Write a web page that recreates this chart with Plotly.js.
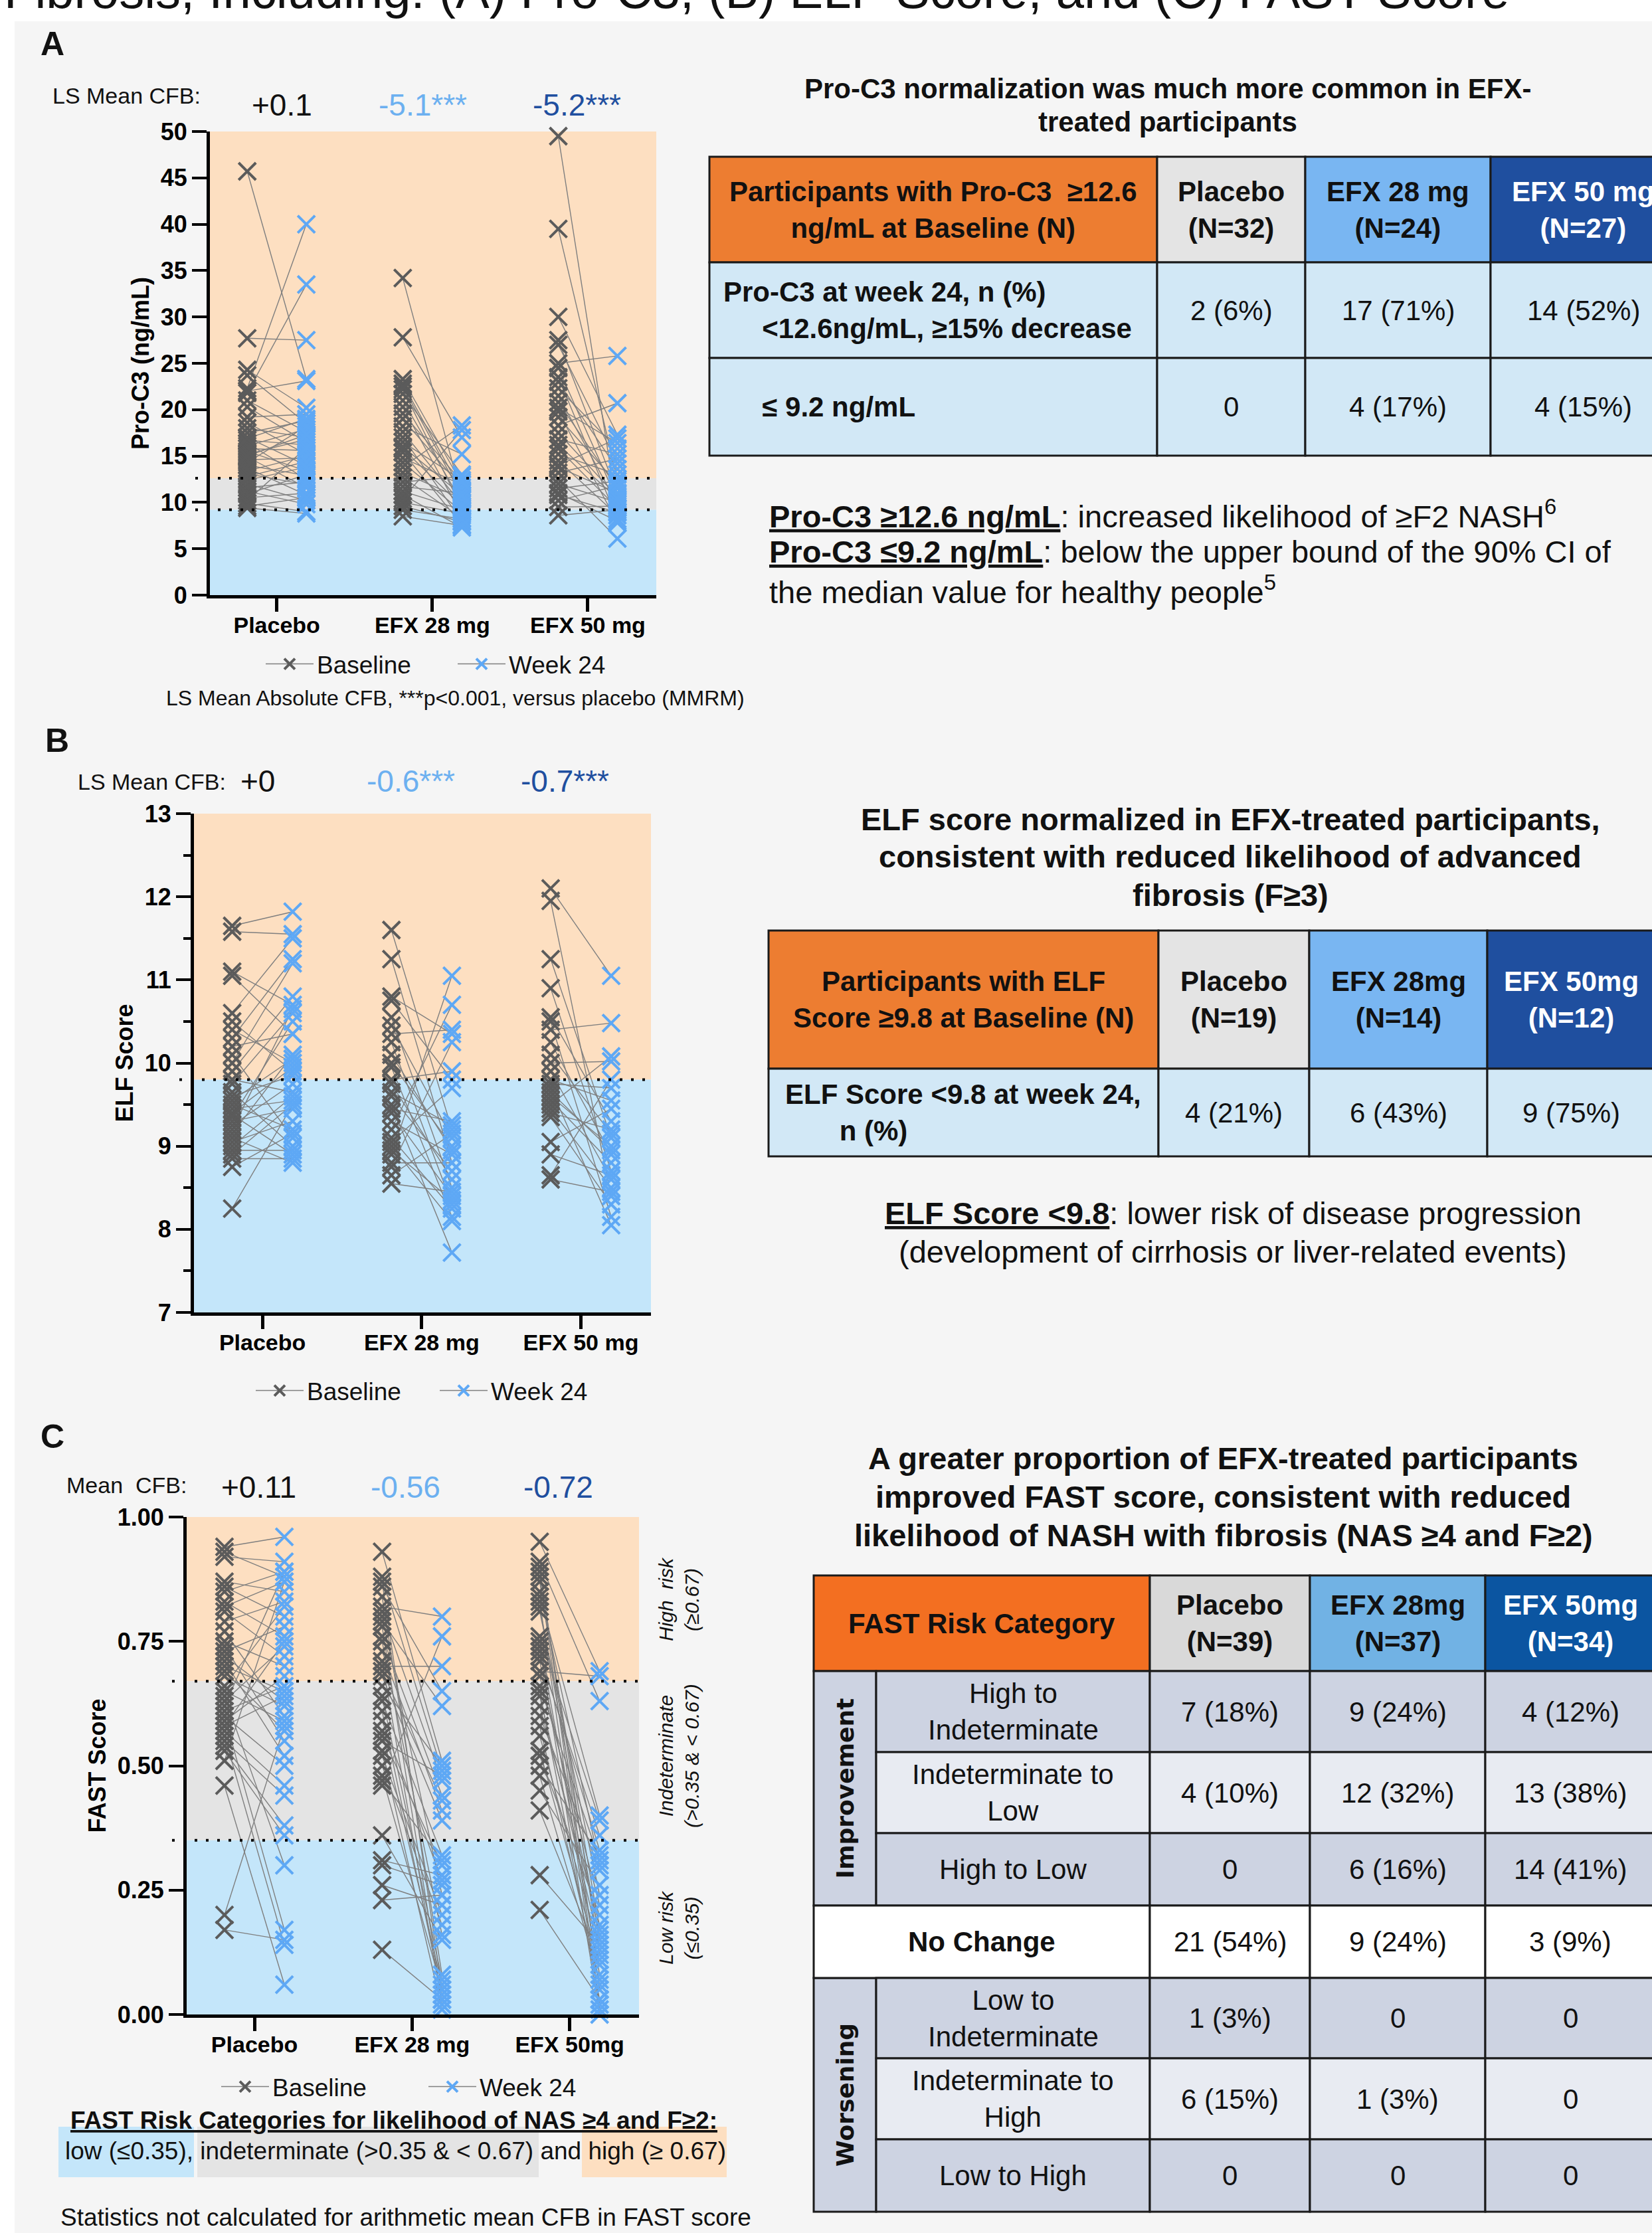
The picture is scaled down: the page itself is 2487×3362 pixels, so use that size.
<!DOCTYPE html>
<html>
<head>
<meta charset="utf-8">
<script src="https://cdn.plot.ly/plotly-3.0.1.min.js"></script>
<style>html,body{margin:0;padding:0;background:#fff;}#chart{width:2487px;height:3362px;}</style>
</head>
<body>
<div id="chart"></div>
<script>
// ======================= DATA =======================
const pageHeading = 'Fibrosis, Including: (A) Pro-C3, (B) ELF Score, and (C) FAST Score';
const groupsAB = ['Placebo', 'EFX 28 mg', 'EFX 50 mg'];
const groupsC = ['Placebo', 'EFX 28 mg', 'EFX 50mg'];
const seriesNames = ['Baseline', 'Week 24'];

// Panel A: Pro-C3 (ng/mL), paired per participant
const proC3PlaceboBaseline = [45.7, 27.7, 24.3, 23.7, 22.3, 21.8, 22.0, 21.0, 20.3, 19.2, 18.6, 18.0, 17.5, 17.0, 16.7, 16.4, 16.1, 15.8, 15.5, 15.2, 14.9, 14.6, 14.3, 14.0, 13.7, 13.4, 13.1, 12.8, 12.4, 12.0, 11.6, 11.2, 10.9, 10.5, 10.2, 9.9, 9.6, 9.4, 16.9, 15.0];
const proC3PlaceboWeek24   = [23.3, 27.5, 20.2, 18.5, 40.0, 33.5, 23.1, 17.6, 16.5, 19.5, 15.2, 17.0, 18.8, 14.0, 16.2, 12.5, 17.9, 15.6, 13.4, 16.8, 11.6, 14.8, 18.2, 12.9, 10.8, 15.0, 11.9, 14.4, 13.8, 10.2, 12.2, 9.8, 13.0, 11.0, 15.9, 9.0, 10.5, 8.8, 19.0, 17.3];
const proC3Efx28Baseline = [34.2, 27.8, 23.3, 22.8, 22.2, 21.7, 21.0, 20.3, 19.0, 18.2, 17.6, 17.0, 16.5, 16.0, 15.4, 14.8, 14.3, 13.8, 13.2, 12.7, 12.2, 11.7, 11.2, 10.8, 10.4, 10.0, 9.6, 9.2, 8.5, 22.5, 19.6, 15.8];
const proC3Efx28Week24   = [10.5, 17.0, 12.0, 11.2, 9.4, 13.0, 10.0, 8.6, 11.6, 15.2, 9.8, 8.0, 12.4, 10.8, 7.6, 11.9, 9.0, 18.3, 10.4, 8.3, 12.8, 11.0, 9.2, 7.3, 17.8, 8.8, 7.9, 8.2, 7.5, 10.7, 12.2, 9.6];
const proC3Efx50Baseline = [49.5, 39.5, 30.0, 27.5, 27.0, 25.0, 24.5, 23.5, 23.0, 21.5, 20.8, 20.2, 19.8, 19.2, 18.3, 17.5, 16.8, 15.8, 15.2, 14.5, 13.8, 13.2, 12.5, 12.0, 11.5, 10.8, 10.2, 9.5, 8.6, 22.3, 16.2, 14.0, 11.0];
const proC3Efx50Week24   = [9.0, 12.5, 17.3, 11.0, 14.2, 25.8, 10.2, 8.2, 13.6, 9.8, 11.5, 16.4, 7.8, 12.0, 20.7, 10.6, 15.2, 9.4, 13.0, 8.6, 11.0, 14.7, 6.1, 10.0, 12.3, 8.9, 11.8, 9.6, 9.2, 15.8, 10.4, 16.9, 8.0];
const proC3Thresholds = [12.6, 9.2];
const proC3MeanCFB = ['+0.1', '-5.1***', '-5.2***'];

// Panel B: ELF score
const elfPlaceboBaseline = [11.65, 11.58, 11.10, 11.05, 10.60, 10.50, 10.30, 10.20, 10.10, 10.00, 9.90, 9.80, 9.75, 9.65, 9.55, 9.50, 9.45, 9.40, 9.38, 9.35, 9.30, 9.25, 9.20, 9.10, 9.05, 9.00, 8.95, 8.90, 8.85, 8.75, 8.25, 10.40, 9.60, 9.15];
const elfPlaceboWeek24   = [11.82, 11.55, 10.70, 10.35, 11.50, 9.90, 11.25, 10.35, 9.10, 11.20, 10.80, 9.65, 10.60, 9.00, 10.05, 9.20, 9.55, 9.95, 8.90, 10.50, 9.45, 9.75, 10.65, 8.80, 9.30, 9.60, 8.95, 9.50, 8.85, 9.15, 9.50, 10.00, 9.85, 10.10];
const elfEfx28Baseline = [11.60, 11.25, 10.80, 10.75, 10.55, 10.45, 10.35, 10.25, 10.00, 9.95, 9.80, 9.75, 9.60, 9.50, 9.45, 9.40, 9.30, 9.20, 9.10, 9.05, 9.00, 8.90, 8.80, 8.75, 8.65, 8.55, 10.10, 9.65, 8.95];
const elfEfx28Week24   = [9.20, 8.80, 10.35, 9.80, 8.50, 9.10, 10.40, 8.30, 9.00, 8.15, 9.90, 8.60, 8.70, 7.72, 9.30, 8.40, 8.90, 10.70, 8.25, 9.70, 8.10, 11.05, 8.80, 10.25, 9.15, 8.45, 8.95, 9.25, 8.35];
const elfEfx50Baseline = [12.10, 11.95, 11.25, 10.90, 10.55, 10.50, 10.40, 10.25, 10.00, 9.90, 9.80, 9.70, 9.60, 9.55, 9.50, 9.45, 9.40, 9.35, 9.05, 8.90, 8.65, 8.60, 9.75, 9.65, 10.10];
const elfEfx50Week24   = [11.05, 8.40, 9.10, 8.70, 9.30, 8.15, 10.48, 8.90, 10.02, 8.60, 9.55, 8.05, 9.00, 8.80, 10.08, 8.50, 9.20, 8.30, 9.45, 8.65, 9.80, 8.45, 9.70, 8.95, 9.15];
const elfThresholds = [9.8];
const elfMeanCFB = ['+0', '-0.6***', '-0.7***'];

// Panel C: FAST score
const fastPlaceboBaseline = [0.94, 0.93, 0.92, 0.87, 0.86, 0.85, 0.83, 0.82, 0.81, 0.79, 0.75, 0.73, 0.77, 0.74, 0.72, 0.71, 0.70, 0.69, 0.68, 0.64, 0.60, 0.56, 0.46, 0.66, 0.63, 0.62, 0.59, 0.58, 0.51, 0.65, 0.61, 0.60, 0.57, 0.55, 0.54, 0.53, 0.58, 0.20, 0.17];
const fastPlaceboWeek24   = [0.96, 0.88, 0.91, 0.85, 0.80, 0.89, 0.76, 0.87, 0.72, 0.83, 0.70, 0.78, 0.60, 0.55, 0.63, 0.52, 0.65, 0.57, 0.62, 0.30, 0.17, 0.14, 0.06, 0.82, 0.74, 0.89, 0.68, 0.75, 0.87, 0.59, 0.66, 0.50, 0.46, 0.44, 0.38, 0.36, 0.64, 0.58, 0.15];
const fastEfx28Baseline = [0.82, 0.70, 0.93, 0.88, 0.86, 0.81, 0.79, 0.76, 0.73, 0.69, 0.68, 0.87, 0.84, 0.80, 0.78, 0.75, 0.71, 0.46, 0.66, 0.55, 0.64, 0.63, 0.61, 0.59, 0.57, 0.56, 0.53, 0.52, 0.50, 0.48, 0.47, 0.36, 0.31, 0.30, 0.26, 0.23, 0.13];
const fastEfx28Week24   = [0.80, 0.70, 0.51, 0.49, 0.65, 0.47, 0.62, 0.44, 0.41, 0.43, 0.39, 0.05, 0.08, 0.24, 0.03, 0.16, 0.02, 0.76, 0.50, 0.48, 0.07, 0.32, 0.04, 0.27, 0.06, 0.30, 0.01, 0.20, 0.18, 0.05, 0.31, 0.15, 0.28, 0.26, 0.22, 0.24, 0.03];
const fastEfx50Baseline = [0.95, 0.69, 0.91, 0.84, 0.76, 0.72, 0.90, 0.89, 0.88, 0.87, 0.85, 0.83, 0.82, 0.81, 0.75, 0.74, 0.73, 0.71, 0.68, 0.66, 0.65, 0.64, 0.62, 0.60, 0.58, 0.56, 0.53, 0.52, 0.50, 0.48, 0.45, 0.41, 0.28, 0.21];
const fastEfx50Week24   = [0.69, 0.68, 0.63, 0.40, 0.39, 0.36, 0.05, 0.12, 0.02, 0.17, 0.30, 0.01, 0.15, 0.24, 0.08, 0.00, 0.33, 0.16, 0.22, 0.31, 0.03, 0.14, 0.18, 0.29, 0.06, 0.13, 0.10, 0.20, 0.32, 0.07, 0.26, 0.11, 0.14, 0.03];
const fastThresholds = [0.67, 0.35];
const fastMeanCFB = ['+0.11', '-0.56', '-0.72'];
const fastZoneLabels = [['High  risk', '(≥0.67)'], ['Indeterminate', '(>0.35 & < 0.67)'], ['Low risk', '(≤0.35)']];

// Table A
const tableATitle = ['Pro-C3 normalization was much more common in EFX-', 'treated participants'];
const tableAHeader = [['Participants with Pro-C3  ≥12.6', 'ng/mL at Baseline (N)'], ['Placebo', '(N=32)'], ['EFX 28 mg', '(N=24)'], ['EFX 50 mg', '(N=27)']];
const tableARowLabels = [['Pro-C3 at week 24, n (%)', '<12.6ng/mL, ≥15% decrease'], ['≤ 9.2 ng/mL']];
const tableAValues = [['2 (6%)', '17 (71%)', '14 (52%)'], ['0', '4 (17%)', '4 (15%)']];
const tableANotes = [
  [['Pro-C3 ≥12.6 ng/mL', true], [': increased likelihood of ≥F2 NASH', false], ['6', 'sup']],
  [['Pro-C3 ≤9.2 ng/mL', true], [': below the upper bound of the 90% CI of', false]],
  [['the median value for healthy people', false], ['5', 'sup']]
];

// Table B
const tableBTitle = ['ELF score normalized in EFX-treated participants,', 'consistent with reduced likelihood of advanced', 'fibrosis (F≥3)'];
const tableBHeader = [['Participants with ELF', 'Score ≥9.8 at Baseline (N)'], ['Placebo', '(N=19)'], ['EFX 28mg', '(N=14)'], ['EFX 50mg', '(N=12)']];
const tableBRowLabels = [['ELF Score <9.8 at week 24,', 'n (%)']];
const tableBValues = [['4 (21%)', '6 (43%)', '9 (75%)']];
const tableBNotes = [
  [['ELF Score <9.8', true], [': lower risk of disease progression', false]],
  [['(development of cirrhosis or liver-related events)', false]]
];

// Table C
const tableCTitle = ['A greater proportion of EFX-treated participants', 'improved FAST score, consistent with reduced', 'likelihood of NASH with fibrosis (NAS ≥4 and F≥2)'];
const tableCHeader = [['FAST Risk Category'], ['Placebo', '(N=39)'], ['EFX 28mg', '(N=37)'], ['EFX 50mg', '(N=34)']];
const fastChangeGroups = ['Improvement', 'Worsening'];
const fastChangeRows = [['High to', 'Indeterminate'], ['Indeterminate to', 'Low'], ['High to Low'], ['No Change'], ['Low to', 'Indeterminate'], ['Indeterminate to', 'High'], ['Low to High']];
const fastRowGroup = [0, 0, 0, -1, 1, 1, 1];
const fastPlaceboCounts = ['7 (18%)', '4 (10%)', '0', '21 (54%)', '1 (3%)', '6 (15%)', '0'];
const fastEfx28Counts = ['9 (24%)', '12 (32%)', '6 (16%)', '9 (24%)', '0', '1 (3%)', '0'];
const fastEfx50Counts = ['4 (12%)', '13 (38%)', '14 (41%)', '3 (9%)', '0', '0', '0'];

const fastLegendTitle = 'FAST Risk Categories for likelihood of NAS ≥4 and F≥2:';
const fastLegendParts = ['low (≤0.35),', 'indeterminate (>0.35 & < 0.67)', 'and', 'high (≥ 0.67)'];
const footA = 'LS Mean Absolute CFB, ***p<0.001, versus placebo (MMRM)';
const footC = 'Statistics not calculated for arithmetic mean CFB in FAST score';

// ======================= STYLE / LAYOUT =======================
const W = 2487, H = 3362;
const FONT = '"Liberation Sans", Arial, Helvetica, sans-serif';
const WIDEFONT = '"DejaVu Sans", Verdana, sans-serif';
const PX = x => x / W, PY = y => 1 - y / H;
const esc = s => s.replace(/&/g, '&amp;').replace(/</g, '&lt;').replace(/>/g, '&gt;');
const NB = n => '\u00a0'.repeat(n);

const C_BASE = '#5b5b5b', C_WK = '#5ea8f5', C_LINK = '#7f7f7f';
const C_ORANGE_BAND = '#fddfc1', C_GRAY_BAND = '#e4e4e4', C_BLUE_BAND = '#c4e6fa';
const meanColors = ['#111111', '#6cb0f0', '#1f4f9f'];
const OFF = 0.19;
const XR = [-0.43, 2.44];

const panels = [
  {xa: 'x', ya: 'y', legend: 'legend', box: [316, 988, 198, 896], yr: [0, 50], dtick: 5, title: 'Pro-C3 (ng/mL)',
   data: [[proC3PlaceboBaseline, proC3PlaceboWeek24], [proC3Efx28Baseline, proC3Efx28Week24], [proC3Efx50Baseline, proC3Efx50Week24]],
   cats: groupsAB, thr: proC3Thresholds, bands: [[12.6, 50, C_ORANGE_BAND], [9.2, 12.6, C_GRAY_BAND], [0, 9.2, C_BLUE_BAND]]},
  {xa: 'x2', ya: 'y2', legend: 'legend2', box: [292, 980, 1225, 1976], yr: [7, 13], dtick: 1, title: 'ELF Score', minor: true,
   data: [[elfPlaceboBaseline, elfPlaceboWeek24], [elfEfx28Baseline, elfEfx28Week24], [elfEfx50Baseline, elfEfx50Week24]],
   cats: groupsAB, thr: elfThresholds, bands: [[9.8, 13, C_ORANGE_BAND], [7, 9.8, C_BLUE_BAND]]},
  {xa: 'x3', ya: 'y3', legend: 'legend3', box: [281, 962, 2284, 3033], yr: [0, 1], dtick: 0.25, fmt: '.2f', title: 'FAST Score',
   data: [[fastPlaceboBaseline, fastPlaceboWeek24], [fastEfx28Baseline, fastEfx28Week24], [fastEfx50Baseline, fastEfx50Week24]],
   cats: groupsC, thr: fastThresholds, bands: [[0.67, 1, C_ORANGE_BAND], [0.35, 0.67, C_GRAY_BAND], [0, 0.35, C_BLUE_BAND]]}
];

const traces = [];
const shapes = [];
const annotations = [];
const layout = {
  width: W, height: H, margin: {l: 0, r: 0, t: 0, b: 0, pad: 0}, autosize: false,
  paper_bgcolor: '#ffffff', plot_bgcolor: 'rgba(0,0,0,0)',
  font: {family: FONT, color: '#111'}, showlegend: true,
  shapes, annotations
};

// page background
shapes.push({type: 'rect', xref: 'paper', yref: 'paper', x0: PX(22), x1: 1, y0: 0, y1: PY(32), fillcolor: '#f5f5f5', line: {width: 0}, layer: 'below'});

function markerTrace(p, xpos, vals, color, name, show) {
  const x = [], y = [];
  vals.forEach(v => { x.push(xpos, null); y.push(v, null); });
  return {type: 'scatter', mode: 'lines+markers', x, y, xaxis: p.xa, yaxis: p.ya, name, legend: p.legend,
    legendgroup: p.legend + name, showlegend: show, connectgaps: false, cliponaxis: false, hoverinfo: 'skip',
    line: {color: C_LINK, width: 1.5},
    marker: {symbol: 'x-thin-open', size: 26, color: color, line: {color: color, width: 4}}};
}

const legendPos = [
  {x: 395, y: 1000, ew: 202},
  {x: 380, y: 2094, ew: 190},
  {x: 328, y: 3142, ew: 225}
];

panels.forEach((p, pi) => {
  const [xl, xr, yt, yb] = p.box;
  const axn = pi === 0 ? '' : String(pi + 1);
  layout['xaxis' + axn] = {
    domain: [PX(xl), PX(xr)], range: XR, anchor: p.ya, fixedrange: true,
    tickmode: 'array', tickvals: [0, 1, 2], ticktext: p.cats, tickangle: 0,
    showline: true, linecolor: '#000', linewidth: 5, ticks: 'outside', ticklen: 20, tickwidth: 5, tickcolor: '#000',
    ticklabelstandoff: -9,
    tickfont: {family: FONT, size: 34, color: '#000', weight: 'bold'},
    showgrid: false, zeroline: false
  };
  const ya = {
    domain: [PY(yb), PY(yt)], range: p.yr, anchor: p.xa, fixedrange: true,
    tick0: p.yr[0], dtick: p.dtick,
    showline: true, linecolor: '#000', linewidth: 5, ticks: 'outside', ticklen: 22, tickwidth: 4, tickcolor: '#000',
    tickfont: {family: FONT, size: 36, color: '#000', weight: 'bold'},
    showgrid: false, zeroline: false, automargin: false,
    title: {text: p.title, font: {family: FONT, size: 36, color: '#000', weight: 'bold'}, standoff: 8}
  };
  if (p.fmt) ya.tickformat = p.fmt;
  if (p.minor) ya.minor = {dtick: p.dtick / 2, ticks: 'outside', ticklen: 11, tickwidth: 4, tickcolor: '#000', showgrid: false};
  layout['yaxis' + axn] = ya;

  // background bands
  p.bands.forEach(b => shapes.push({type: 'rect', xref: p.xa + ' domain', yref: p.ya, x0: 0, x1: 1, y0: b[0], y1: b[1], fillcolor: b[2], line: {width: 0}, layer: 'below'}));
  // threshold dotted lines
  p.thr.forEach(t => shapes.push({type: 'line', xref: 'paper', yref: p.ya, x0: PX(xl - 22), x1: PX(xr), y0: t, y1: t, line: {color: '#000', width: 4, dash: '4px,13px'}, layer: 'above'}));

  // connecting lines + markers
  p.data.forEach((pair, gi) => {
    const [base, wk] = pair;
    const lx = [], ly = [];
    base.forEach((b, i) => { lx.push(gi - OFF, gi + OFF, null); ly.push(b, wk[i], null); });
    traces.push({type: 'scatter', mode: 'lines', x: lx, y: ly, xaxis: p.xa, yaxis: p.ya, showlegend: false, hoverinfo: 'skip',
      line: {color: C_LINK, width: 1.4}, cliponaxis: false});
  });
  p.data.forEach((pair, gi) => {
    traces.push(markerTrace(p, gi - OFF, pair[0], C_BASE, seriesNames[0], gi === 0));
    traces.push(markerTrace(p, gi + OFF, pair[1], C_WK, seriesNames[1], gi === 0));
  });

  const lp = legendPos[pi];
  layout[p.legend] = {orientation: 'h', x: PX(lp.x), xanchor: 'left', y: PY(lp.y), yanchor: 'middle',
    font: {family: FONT, size: 37, color: '#111'}, bgcolor: 'rgba(0,0,0,0)', borderwidth: 0,
    itemwidth: 72, entrywidth: lp.ew, entrywidthmode: 'pixels', traceorder: 'normal', itemclick: false, itemdoubleclick: false};
});

// ---- text helper ----
function txt(x, y, text, size, opts) {
  const a = {xref: 'paper', yref: 'paper', x: PX(x), y: PY(y), text, showarrow: false, xanchor: 'center', yanchor: 'middle',
    font: {family: FONT, size, color: '#111'}};
  return Object.assign(a, opts || {});
}
function rich(parts) {
  return parts.map(([s, st]) => st === 'sup' ? '<sup>' + esc(s) + '</sup>' : (st ? '<u><b>' + esc(s) + '</b></u>' : esc(s))).join('');
}

// heading (cut at top edge)
annotations.push(txt(4, 30, esc(pageHeading), 76, {xanchor: 'left', yanchor: 'bottom'}));

// Panel letters
annotations.push(txt(79, 66, '<b>A</b>', 50));
annotations.push(txt(86, 1115, '<b>B</b>', 50));
annotations.push(txt(79, 2163, '<b>C</b>', 50));

// Mean CFB labels
annotations.push(txt(77, 144, 'LS Mean CFB:', 34, {xanchor: 'left'}));
annotations.push(txt(115, 1177, 'LS Mean CFB:', 34, {xanchor: 'left'}));
annotations.push(txt(98, 2236, 'Mean  CFB:', 34, {xanchor: 'left'}));
const cfbPos = [[[424, 158], [636, 158], [868, 158]], [[388, 1176], [618, 1176], [850, 1176]], [[389, 2239], [610, 2239], [840, 2239]]];
[proC3MeanCFB, elfMeanCFB, fastMeanCFB].forEach((arr, pi) => arr.forEach((v, i) => {
  annotations.push(txt(cfbPos[pi][i][0], cfbPos[pi][i][1], esc(v), 46, {font: {family: FONT, size: 46, color: meanColors[i]}}));
}));

// footnote A
annotations.push(txt(685, 1051, esc(footA), 32));

// FAST zone labels (right side, rotated)
const zoneY = [2408, 2644, 2902];
fastZoneLabels.forEach((z, i) => annotations.push(txt(1022, zoneY[i], z.map(esc).join('<br>'), 30,
  {textangle: -90, align: 'center', font: {family: FONT, size: 30, color: '#111', style: 'italic'}})));

// FAST category legend below chart C
shapes.push({type: 'rect', xref: 'paper', yref: 'paper', x0: PX(88), x1: PX(292), y0: PY(3278), y1: PY(3202), fillcolor: C_BLUE_BAND, line: {width: 0}, layer: 'below'});
shapes.push({type: 'rect', xref: 'paper', yref: 'paper', x0: PX(297), x1: PX(811), y0: PY(3278), y1: PY(3202), fillcolor: C_GRAY_BAND, line: {width: 0}, layer: 'below'});
shapes.push({type: 'rect', xref: 'paper', yref: 'paper', x0: PX(876), x1: PX(1094), y0: PY(3278), y1: PY(3202), fillcolor: C_ORANGE_BAND, line: {width: 0}, layer: 'below'});
annotations.push(txt(593, 3192, '<u><b>' + esc(fastLegendTitle) + '</b></u>', 37));
annotations.push(txt(595, 3238, fastLegendParts.map(esc).join(' '), 37));
annotations.push(txt(611, 3338, esc(footC), 37));

// Titles & notes on the right
tableATitle.forEach((l, i) => annotations.push(txt(1758, [133, 184][i], '<b>' + esc(l) + '</b>', 42)));
tableBTitle.forEach((l, i) => annotations.push(txt(1852, [1233, 1290, 1347][i], '<b>' + esc(l) + '</b>', 47)));
tableCTitle.forEach((l, i) => annotations.push(txt(1842, [2195, 2253, 2311][i], '<b>' + esc(l) + '</b>', 47)));
tableANotes.forEach((n, i) => annotations.push(txt(1156, [774, 831, 888][i], rich(n), 47, {xanchor: 'left'})));
tableBNotes.forEach((n, i) => annotations.push(txt(1856, [1826, 1884][i], rich(n), 47)));

// ======================= TABLES (page-pixel axis x4/y4) =======================
layout.xaxis4 = {domain: [0, 1], range: [0, W], visible: false, anchor: 'y4', fixedrange: true};
layout.yaxis4 = {domain: [0, 1], range: [H, 0], visible: false, anchor: 'x4', fixedrange: true};
traces.push({type: 'scatter', x: [], y: [], xaxis: 'x4', yaxis: 'y4', showlegend: false, hoverinfo: 'skip'});

const LINE_C = '#1a1a1a';
function cell(x0, x1, y0, y1, fill, lw) {
  shapes.push({type: 'rect', xref: 'x4', yref: 'y4', x0, x1, y0, y1, fillcolor: fill, line: {color: LINE_C, width: lw || 3}, layer: 'above'});
}
function ctext(x, y, text, size, opts) {
  annotations.push(Object.assign({xref: 'x4', yref: 'y4', x, y, text, showarrow: false, xanchor: 'center', yanchor: 'middle', align: 'center',
    font: {family: FONT, size, color: '#111'}}, opts || {}));
}
const headFillsAB = ['#ed7d31', '#e4e4e4', '#79b6f2', '#1f4f9f'];
const headTextCol = ['#111', '#111', '#111', '#fff'];
const BODY_AB = '#d2e8f6';
const TFS = 42;

function simpleTable(cols, rows, header, rowLabels, values, labelX, indents) {
  header.forEach((h, i) => {
    cell(cols[i], cols[i + 1], rows[0], rows[1], headFillsAB[i]);
    ctext((cols[i] + cols[i + 1]) / 2, (rows[0] + rows[1]) / 2, '<b>' + h.map(esc).join('<br>') + '</b>', TFS,
      {font: {family: FONT, size: TFS, color: headTextCol[i]}});
  });
  rowLabels.forEach((lab, r) => {
    const y0 = rows[r + 1], y1 = rows[r + 2], ym = (y0 + y1) / 2;
    cell(cols[0], cols[1], y0, y1, BODY_AB);
    ctext(cols[0] + labelX, ym, '<b>' + lab.map((l, k) => NB(indents[r][k]) + esc(l)).join('<br>') + '</b>', TFS, {xanchor: 'left', align: 'left'});
    values[r].forEach((v, c) => {
      cell(cols[c + 1], cols[c + 2], y0, y1, BODY_AB);
      ctext((cols[c + 1] + cols[c + 2]) / 2, ym, esc(v), TFS);
    });
  });
}
simpleTable([1068, 1742, 1965, 2244, 2523], [236, 395, 539, 686], tableAHeader, tableARowLabels, tableAValues, 19, [[0, 5], [5]]);
simpleTable([1157, 1744, 1971, 2239, 2491], [1401, 1609, 1741], tableBHeader, tableBRowLabels, tableBValues, 23, [[0, 7]]);

// Table C
(function () {
  const cols = [1225, 1319, 1731, 1972, 2236, 2492];
  const rows = [2372, 2516, 2638, 2760, 2869, 2978, 3099, 3221, 3330];
  const headFills = ['#f36f21', '#d9d9d9', '#71b2e4', '#0b55a1'];
  const rowFills = ['#cdd3e2', '#e8ebf2', '#cdd3e2', '#ffffff', '#cdd3e2', '#e8ebf2', '#cdd3e2'];
  const valueCols = [fastPlaceboCounts, fastEfx28Counts, fastEfx50Counts];
  // header
  cell(cols[0], cols[2], rows[0], rows[1], headFills[0]);
  ctext((cols[0] + cols[2]) / 2, (rows[0] + rows[1]) / 2, '<b>' + esc(tableCHeader[0][0]) + '</b>', TFS);
  for (let i = 1; i < 4; i++) {
    cell(cols[i + 1], cols[i + 2], rows[0], rows[1], headFills[i]);
    ctext((cols[i + 1] + cols[i + 2]) / 2, (rows[0] + rows[1]) / 2, '<b>' + tableCHeader[i].map(esc).join('<br>') + '</b>', TFS,
      {font: {family: FONT, size: TFS, color: headTextCol[i]}});
  }
  // group cells
  fastChangeGroups.forEach((g, gi) => {
    const idx = fastRowGroup.map((v, k) => v === gi ? k : -1).filter(k => k >= 0);
    const y0 = rows[idx[0] + 1], y1 = rows[idx[idx.length - 1] + 2];
    cell(cols[0], cols[1], y0, y1, '#cdd3e2');
    ctext((cols[0] + cols[1]) / 2, (y0 + y1) / 2, '<b>' + esc(g) + '</b>', 36,
      {textangle: -90, font: {family: WIDEFONT, size: 36, color: '#111'}});
  });
  // rows
  fastChangeRows.forEach((lab, r) => {
    const y0 = rows[r + 1], y1 = rows[r + 2], ym = (y0 + y1) / 2;
    if (fastRowGroup[r] < 0) {
      cell(cols[0], cols[2], y0, y1, rowFills[r]);
      ctext((cols[0] + cols[2]) / 2, ym, '<b>' + lab.map(esc).join('<br>') + '</b>', TFS);
    } else {
      cell(cols[1], cols[2], y0, y1, rowFills[r]);
      ctext((cols[1] + cols[2]) / 2, ym, lab.map(esc).join('<br>'), TFS);
    }
    valueCols.forEach((vc, c) => {
      cell(cols[c + 2], cols[c + 3], y0, y1, rowFills[r]);
      ctext((cols[c + 2] + cols[c + 3]) / 2, ym, esc(vc[r]), TFS);
    });
  });
})();

Plotly.newPlot('chart', traces, layout, {staticPlot: true, displayModeBar: false});
</script>
</body>
</html>
